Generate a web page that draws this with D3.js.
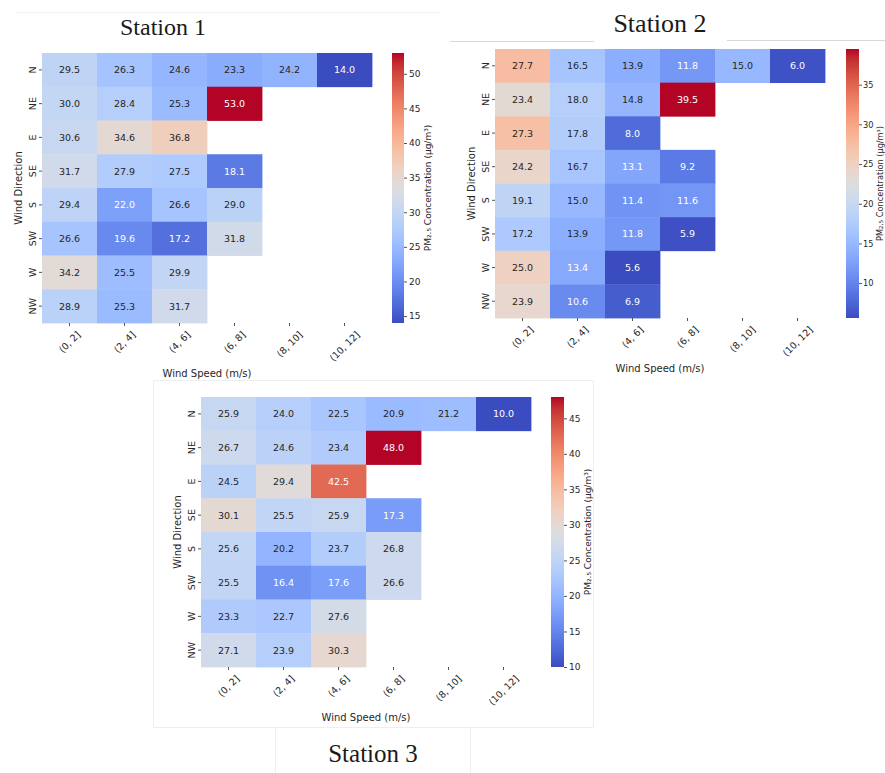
<!DOCTYPE html>
<html>
<head>
<meta charset="utf-8">
<script src="https://cdn.jsdelivr.net/npm/d3@7/dist/d3.min.js"></script>
<style>
  html, body { margin: 0; padding: 0; background: #ffffff; }
  svg { display: block; }
</style>
</head>
<body>
<svg id="chart" width="885" height="773"></svg>
<script>
// Wind direction rows and wind speed bins (columns)
const directions = ["N", "NE", "E", "SE", "S", "SW", "W", "NW"];
const speedBins = ["(0, 2]", "(2, 4]", "(4, 6]", "(6, 8]", "(8, 10]", "(10, 12]"];

// Mean PM2.5 per direction/speed bin; null = no observations
const station1Values = [
  [29.5, 26.3, 24.6, 23.3, 24.2, 14.0],
  [30.0, 28.4, 25.3, 53.0, null, null],
  [30.6, 34.6, 36.8, null, null, null],
  [31.7, 27.9, 27.5, 18.1, null, null],
  [29.4, 22.0, 26.6, 29.0, null, null],
  [26.6, 19.6, 17.2, 31.8, null, null],
  [34.2, 25.5, 29.9, null, null, null],
  [28.9, 25.3, 31.7, null, null, null]
];
const station2Values = [
  [27.7, 16.5, 13.9, 11.8, 15.0, 6.0],
  [23.4, 18.0, 14.8, 39.5, null, null],
  [27.3, 17.8, 8.0, null, null, null],
  [24.2, 16.7, 13.1, 9.2, null, null],
  [19.1, 15.0, 11.4, 11.6, null, null],
  [17.2, 13.9, 11.8, 5.9, null, null],
  [25.0, 13.4, 5.6, null, null, null],
  [23.9, 10.6, 6.9, null, null, null]
];
const station3Values = [
  [25.9, 24.0, 22.5, 20.9, 21.2, 10.0],
  [26.7, 24.6, 23.4, 48.0, null, null],
  [24.5, 29.4, 42.5, null, null, null],
  [30.1, 25.5, 25.9, 17.3, null, null],
  [25.6, 20.2, 23.7, 26.8, null, null],
  [25.5, 16.4, 17.6, 26.6, null, null],
  [23.3, 22.7, 27.6, null, null, null],
  [27.1, 23.9, 30.3, null, null, null]
];

// Colour bar tick labels
const station1Ticks = [15, 20, 25, 30, 35, 40, 45, 50];
const station2Ticks = [10, 15, 20, 25, 30, 35];
const station3Ticks = [10, 15, 20, 25, 30, 35, 40, 45];

const titles = ["Station 1", "Station 2", "Station 3"];

// "coolwarm" diverging colour map (Moreland smooth cool-warm)
const coolwarmStops = [
  [59,76,192],[68,90,204],[77,104,215],[87,117,225],[98,130,234],[108,142,241],
  [119,154,247],[130,165,251],[141,176,254],[152,185,255],[163,194,255],[174,201,253],
  [184,208,249],[194,213,244],[204,217,238],[213,219,230],[221,221,221],[229,216,209],
  [236,211,197],[241,204,184],[245,196,172],[247,187,159],[247,177,147],[247,166,134],
  [244,154,123],[241,141,111],[236,127,99],[229,112,88],[222,96,77],[213,80,66],
  [203,62,56],[192,40,47],[180,4,38]
].map(c => d3.rgb(c[0], c[1], c[2]).formatHex());
const coolwarm = d3.piecewise(d3.interpolateRgb, coolwarmStops);

function luminance(hex) {
  const c = d3.rgb(hex);
  const lin = [c.r, c.g, c.b].map(v => {
    v /= 255;
    return v <= 0.03928 ? v / 12.92 : Math.pow((v + 0.055) / 1.055, 2.4);
  });
  return 0.2126 * lin[0] + 0.7152 * lin[1] + 0.0722 * lin[2];
}

const FONT = "'DejaVu Sans', Verdana, sans-serif";
const INK = "#262626";

const svg = d3.select("#chart");

// faint frame lines of the three panels
const frame = svg.append("g").attr("stroke", "#e6e6e6").attr("fill", "none").attr("stroke-width", 1);
frame.append("line").attr("x1", 15).attr("x2", 440).attr("y1", 12.5).attr("y2", 12.5).attr("stroke", "#f2f2f2");
frame.append("line").attr("x1", 450).attr("x2", 594).attr("y1", 41.5).attr("y2", 41.5).attr("stroke", "#d8d8d8");
frame.append("line").attr("x1", 727).attr("x2", 885).attr("y1", 40.5).attr("y2", 40.5).attr("stroke", "#d8d8d8");
frame.append("rect").attr("x", 153.5).attr("y", 380.5).attr("width", 440).attr("height", 347).attr("stroke", "#eeeeee");
frame.append("path").attr("d", "M275.5,728V773M470.5,728V773").attr("stroke", "#eeeeee");

const defs = svg.append("defs");
const grad = defs.append("linearGradient").attr("id", "cw")
  .attr("x1", 0).attr("y1", 1).attr("x2", 0).attr("y2", 0);
d3.range(0, 65).forEach(i => {
  const t = i / 64;
  grad.append("stop").attr("offset", t).attr("stop-color", coolwarm(t));
});

const panels = [
  { values: station1Values, ticks: station1Ticks, title: titles[0],
    x: 42, y: 53, w: 330, h: 270, cbX: 392, cbW: 12, cbLab: 24, cbPad: 2, cbFont: 9,
    tx: 163, ty: 35, tsize: 24 },
  { values: station2Values, ticks: station2Ticks, title: titles[1],
    x: 495, y: 49, w: 330, h: 269, cbX: 846, cbW: 13, cbLab: 20.5, cbPad: 1, cbFont: 8.2,
    tx: 660, ty: 32, tsize: 26 },
  { values: station3Values, ticks: station3Ticks, title: titles[2],
    x: 201, y: 397, w: 330, h: 270, cbX: 551, cbW: 13, cbLab: 24, cbPad: 2, cbFont: 9,
    tx: 373, ty: 762, tsize: 25 }
];

panels.forEach(p => {
  const flat = p.values.flat().filter(v => v != null);
  const [vmin, vmax] = d3.extent(flat);
  const color = v => coolwarm((v - vmin) / (vmax - vmin));

  const x = d3.scaleBand().domain(speedBins).range([p.x, p.x + p.w]);
  const y = d3.scaleBand().domain(directions).range([p.y, p.y + p.h]);

  const g = svg.append("g");

  // title
  g.append("text")
    .attr("x", p.tx).attr("y", p.ty)
    .attr("text-anchor", "middle")
    .attr("font-family", "'Liberation Serif', 'Times New Roman', serif")
    .attr("font-size", p.tsize).attr("fill", "#1a1a1a")
    .text(p.title);

  const cells = [];
  p.values.forEach((row, i) => row.forEach((v, j) => {
    if (v != null) cells.push({ dir: directions[i], bin: speedBins[j], v });
  }));

  g.append("g").selectAll("rect").data(cells).join("rect")
    .attr("x", d => x(d.bin)).attr("y", d => y(d.dir))
    .attr("width", x.bandwidth() + 0.4).attr("height", y.bandwidth() + 0.4)
    .attr("fill", d => color(d.v));

  g.append("g").selectAll("text").data(cells).join("text")
    .attr("x", d => x(d.bin) + x.bandwidth() / 2)
    .attr("y", d => y(d.dir) + y.bandwidth() / 2)
    .attr("text-anchor", "middle").attr("dominant-baseline", "central")
    .attr("font-family", FONT).attr("font-size", 9.5)
    .attr("fill", d => luminance(color(d.v)) > 0.408 ? INK : "#ffffff")
    .text(d => d.v.toFixed(1));

  // y axis (wind direction)
  const ya = g.append("g").attr("transform", `translate(${p.x},0)`)
    .call(d3.axisLeft(y).tickSize(3).tickPadding(0));
  ya.select(".domain").remove();
  ya.selectAll(".tick line").attr("stroke", "#555");
  ya.selectAll(".tick text")
    .attr("x", 0).attr("y", 0).attr("dy", null)
    .attr("transform", "translate(-10,0) rotate(-90)")
    .attr("text-anchor", "middle").attr("dominant-baseline", "central")
    .attr("font-family", FONT).attr("font-size", 9.5).attr("fill", INK);

  // x axis (wind speed)
  const xa = g.append("g").attr("transform", `translate(0,${p.y + p.h})`)
    .call(d3.axisBottom(x).tickSize(3).tickPadding(0));
  xa.select(".domain").remove();
  xa.selectAll(".tick line").attr("stroke", "#555");
  xa.selectAll(".tick text")
    .attr("font-family", FONT).attr("font-size", 9.5).attr("fill", INK)
    .attr("text-anchor", "middle").attr("dominant-baseline", "central")
    .attr("dy", null).attr("y", 0)
    .each(function () {
      const len = this.getComputedTextLength();
      const box = (len + 11) * Math.SQRT1_2;
      d3.select(this).attr("transform", `translate(0,${6 + box / 2}) rotate(-45)`);
    });

  // axis titles
  g.append("text")
    .attr("transform", `translate(${p.x - 24},${p.y + p.h / 2}) rotate(-90)`)
    .attr("text-anchor", "middle").attr("dominant-baseline", "central")
    .attr("font-family", FONT).attr("font-size", 10).attr("fill", INK)
    .text("Wind Direction");
  g.append("text")
    .attr("x", p.x + p.w / 2).attr("y", p.y + p.h + 50)
    .attr("text-anchor", "middle").attr("dominant-baseline", "central")
    .attr("font-family", FONT).attr("font-size", 10).attr("fill", INK)
    .text("Wind Speed (m/s)");

  // colour bar
  const cs = d3.scaleLinear().domain([vmin, vmax]).range([p.y + p.h, p.y]);
  g.append("rect")
    .attr("x", p.cbX).attr("y", p.y).attr("width", p.cbW).attr("height", p.h)
    .attr("fill", "url(#cw)");
  const ca = g.append("g").attr("transform", `translate(${p.cbX + p.cbW},0)`)
    .call(d3.axisRight(cs).tickValues(p.ticks).tickSize(3).tickPadding(p.cbPad));
  ca.select(".domain").remove();
  ca.selectAll(".tick line").attr("stroke", "#555");
  ca.selectAll(".tick text")
    .attr("font-family", FONT).attr("font-size", p.cbFont).attr("fill", INK);
  g.append("text")
    .attr("transform", `translate(${p.cbX + p.cbW + p.cbLab},${p.y + p.h / 2}) rotate(-90)`)
    .attr("text-anchor", "middle").attr("dominant-baseline", "central")
    .attr("font-family", FONT).attr("font-size", p.cbFont).attr("fill", INK)
    .text("PM₂.₅ Concentration (µg/m³)");
});
</script>
</body>
</html>
